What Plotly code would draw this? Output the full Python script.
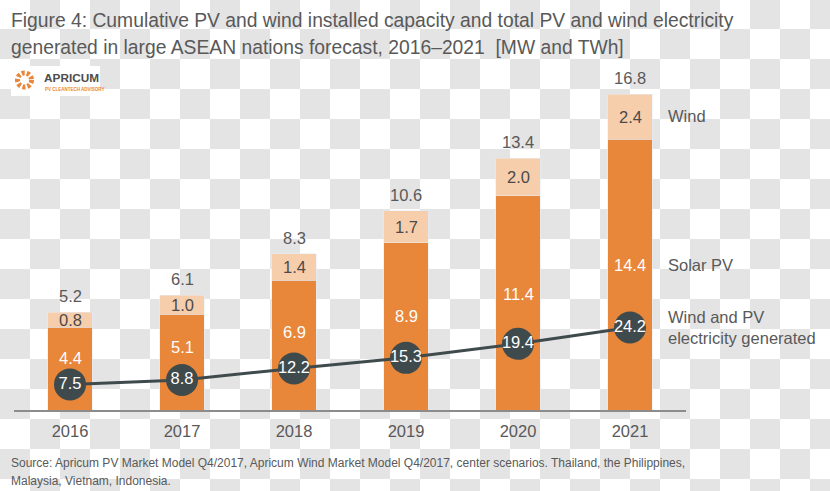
import plotly.graph_objects as go

# ---------------- data ----------------
years = ["2016", "2017", "2018", "2019", "2020", "2021"]
solar_pv = [4.4, 5.1, 6.9, 8.9, 11.4, 14.4]
wind = [0.8, 1.0, 1.4, 1.7, 2.0, 2.4]
totals = [5.2, 6.1, 8.3, 10.6, 13.4, 16.8]
electricity_twh = [7.5, 8.8, 12.2, 15.3, 19.4, 24.2]

# label placement (fraction of solar segment height) - styling only
solar_label_frac = [0.63, 0.66, 0.60, 0.56, 0.54, 0.535]

title_lines = [
    "Figure 4: Cumulative PV and wind installed capacity and total PV and wind electricity",
    "generated in large ASEAN nations forecast, 2016\u20132021  [MW and TWh]",
]
source_lines = [
    "Source: Apricum PV Market Model Q4/2017, Apricum Wind Market Model Q4/2017, center scenarios. Thailand, the Philippines,",
    "Malaysia, Vietnam, Indonesia.",
]

# ---------------- styling ----------------
W, H = 830, 491
ML, MR, MT, MB = 14, 144, 60, 81
PW, PH = W - ML - MR, H - MT - MB
SOLAR = "#E8863A"
WIND = "#F6CEAC"
DARK = "#3F4A4D"
TXT = "#595959"
SANS = "Liberation Sans, Arial, sans-serif"
Y1_PX = 18.8   # px per MW-unit
Y2_PX = 3.41   # px per TWh


def px_x(px):
    return (px - ML) / PW


def px_y(py):
    return (H - MB - py) / PH


fig = go.Figure()

fig.add_trace(go.Bar(x=years, y=solar_pv, marker_color=SOLAR, width=0.4,
                     name="Solar PV", hoverinfo="skip"))
fig.add_trace(go.Bar(x=years, y=wind, marker_color=WIND, width=0.4,
                     name="Wind", hoverinfo="skip"))
fig.add_trace(go.Scatter(
    x=years, y=electricity_twh, yaxis="y2", mode="lines+markers+text",
    line=dict(color=DARK, width=3),
    marker=dict(size=32, color=DARK),
    text=[f"{v:.1f}" for v in electricity_twh], textposition="middle center",
    textfont=dict(color="white", size=16.5, family=SANS),
    hoverinfo="skip", name="Wind and PV electricity generated"))

ann = []
for i in range(len(years)):
    ann.append(dict(x=i, y=totals[i], text=f"{totals[i]:.1f}", showarrow=False,
                    yshift=16, font=dict(size=16.5, color=TXT, family=SANS)))
    ann.append(dict(x=i, y=solar_pv[i] + wind[i] / 2, text=f"{wind[i]:.1f}", showarrow=False,
                    font=dict(size=16.5, color="#4a4a4a", family=SANS)))
    ann.append(dict(x=i, y=solar_pv[i] * solar_label_frac[i], text=f"{solar_pv[i]:.1f}",
                    showarrow=False, font=dict(size=16.5, color="white", family=SANS)))

last = len(years) - 1
ann.append(dict(x=last, y=solar_pv[last] + wind[last] / 2, text="Wind", showarrow=False,
                xanchor="left", xshift=36, yshift=1,
                font=dict(size=16.5, color=TXT, family=SANS)))
ann.append(dict(x=last, y=solar_pv[last] * solar_label_frac[last], text="Solar PV",
                showarrow=False, xanchor="left", xshift=36,
                font=dict(size=16.5, color=TXT, family=SANS)))
ann.append(dict(x=last, y=electricity_twh[last], yref="y2",
                text="Wind and PV<br>electricity generated", showarrow=False, align="left",
                xanchor="left", xshift=36, font=dict(size=16.5, color=TXT, family=SANS)))

# title
for k, line in enumerate(title_lines):
    ann.append(dict(xref="paper", yref="paper", x=px_x(9), y=px_y(20.5 + 26.5 * k), text=line,
                    showarrow=False, xanchor="left", yanchor="middle",
                    font=dict(size=19.3, color=TXT, family=SANS)))
# source
for k, line in enumerate(source_lines):
    ann.append(dict(xref="paper", yref="paper", x=px_x(9), y=px_y(463 + 18 * k), text=line,
                    showarrow=False, xanchor="left", yanchor="middle",
                    font=dict(size=12, color=TXT, family=SANS)))
# logo text
ann.append(dict(xref="paper", yref="paper", x=px_x(42), y=px_y(77.5), text="<b>APRICUM</b>",
                showarrow=False, xanchor="left", yanchor="middle",
                font=dict(size=11.8, color="#4d4d4d", family=SANS)))
ann.append(dict(xref="paper", yref="paper", x=px_x(43), y=px_y(89), text="<b>PV CLEANTECH ADVISORY</b>",
                showarrow=False, xanchor="left", yanchor="middle",
                font=dict(size=4.5, color=SOLAR, family=SANS)))

# checkerboard background + logo icon
shapes = []
CS = 30
for c in range(0, W // CS + 1):
    for r in range(0, H // CS + 2):
        if (c + r) % 2 == 1:
            x0, x1 = c * CS, (c + 1) * CS
            y0, y1 = r * CS - 1, (r + 1) * CS - 1
            shapes.append(dict(type="rect", xref="paper", yref="paper", layer="below",
                               x0=px_x(x0), x1=px_x(x1), y0=px_y(y1), y1=px_y(y0),
                               fillcolor="#E4E4E4", line=dict(width=0)))
shapes.append(dict(type="rect", xref="paper", yref="paper", layer="below",
                   x0=px_x(11), x1=px_x(100), y0=px_y(96), y1=px_y(66),
                   fillcolor="white", line=dict(width=0)))
shapes.append(dict(type="circle", xref="paper", yref="paper", layer="above",
                   x0=px_x(17.5), x1=px_x(31.5), y0=px_y(87), y1=px_y(73),
                   fillcolor="rgba(0,0,0,0)", line=dict(color=SOLAR, width=5, dash="3px,2px")))

fig.update_layout(
    width=W, height=H, margin=dict(l=ML, r=MR, t=MT, b=MB),
    paper_bgcolor="white", plot_bgcolor="rgba(0,0,0,0)",
    barmode="stack", showlegend=False,
    xaxis=dict(type="category", range=[-0.5, 5.5], showline=True, linecolor="#8c8c8c",
               linewidth=1.5, showgrid=False, zeroline=False, ticks="", ticklabelstandoff=5,
               tickfont=dict(size=16.5, color=TXT, family=SANS)),
    yaxis=dict(range=[0, PH / Y1_PX], visible=False, showgrid=False, zeroline=False),
    yaxis2=dict(range=[0, PH / Y2_PX], overlaying="y", visible=False, showgrid=False,
                zeroline=False),
    annotations=ann, shapes=shapes,
)

fig.write_html("out.html", config={"displayModeBar": False},
               post_script="document.body.style.margin='0';")
